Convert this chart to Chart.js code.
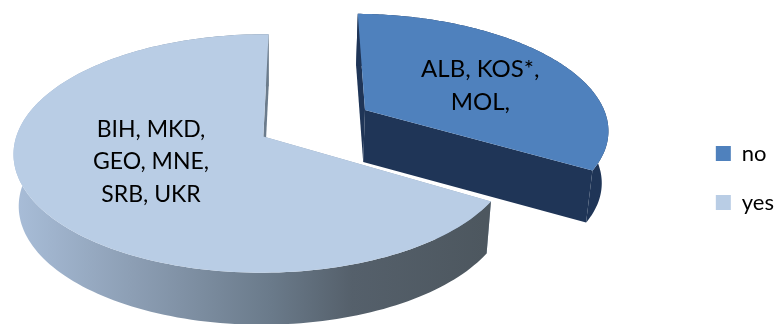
<!DOCTYPE html>
<html>
<head>
<meta charset="utf-8">
<style>
  html, body { margin: 0; padding: 0; background: #fff; }
  canvas { display: block; }
</style>
</head>
<body>
<canvas id="myChart" width="777" height="324"></canvas>
<script src="https://cdn.jsdelivr.net/npm/chart.js@4/dist/chart.umd.min.js"></script>
<script>
const categories = ['no', 'yes'];
const countryCounts = [3, 6];
const sliceTexts = [
  ['ALB, KOS*,', 'MOL,'],
  ['BIH, MKD,', 'GEO, MNE,', 'SRB, UKR']
];
const topColors = ['#4f81bd', '#b9cde5'];
const wallColors = ['#1f3557', '#8fa2b8'];

const font = 'Lato, Carlito, sans-serif';

// camera for the tilted pie: flattens and tips the circle chart.js works out
const view = { cx: 315, cy: 123, a: 243, b: 113, k: 0.14, vx: 275, depth: 52, shrink: 0.98 };
// slice text placement and size
const textStyle = [
  { r: 0.59, shift: 6, size: 24 },
  { r: 0.5, shift: -4, size: 23 }
];

function project(x, z, low) {
  const w = 1 + view.k * z;
  let sx = view.vx + (view.cx + x * view.a - view.vx) / w;
  let sy = view.cy - (z * view.b) / w;
  if (low) {
    sx = view.vx + (sx - view.vx) * view.shrink;
    sy += view.depth;
  }
  return [sx, sy];
}

// world position of a point on an arc element, exploded by its own offset
function slicePoint(arc, angle, r) {
  const mid = (arc.startAngle + arc.endAngle) / 2;
  const e = arc.options.offset / arc.outerRadius;
  return [e * Math.cos(mid) + r * Math.cos(angle), -(e * Math.sin(mid) + r * Math.sin(angle))];
}

function fillPath(ctx, pts, fill) {
  ctx.beginPath();
  pts.forEach((p, i) => (i ? ctx.lineTo(p[0], p[1]) : ctx.moveTo(p[0], p[1])));
  ctx.closePath();
  ctx.fillStyle = fill;
  ctx.fill();
}

const pie3d = {
  id: 'pie3d',
  afterLayout(chart) {
    // legend sits tighter to the edge and lower than the default box
    const lg = chart.legend;
    lg.left += 7; lg.right += 7;
    lg.top += 16; lg.bottom += 16;
  },
  beforeDatasetDraw(chart) {
    const ctx = chart.ctx;
    const arcs = chart.getDatasetMeta(0).data;
    arcs.forEach((arc, i) => {
      const n = 160;
      const rim = [];
      for (let s = 0; s <= n; s++) {
        rim.push(slicePoint(arc, arc.startAngle + (arc.endAngle - arc.startAngle) * s / n, 1));
      }
      const apex = slicePoint(arc, arc.startAngle, 0);
      const first = rim[0], last = rim[n];
      const up = p => project(p[0], p[1], false);
      const low = p => project(p[0], p[1], true);

      // shading along the wall
      let wall = wallColors[i];
      if (i === 1) {
        wall = ctx.createLinearGradient(12, 0, 484, 0);
        wall.addColorStop(0, '#a9bed9');
        wall.addColorStop(0.25, '#8d9fb5');
        wall.addColorStop(0.55, '#6a7a8a');
        wall.addColorStop(0.72, '#55606b');
        wall.addColorStop(1, '#4d575f');
      }

      fillPath(ctx, [up(apex), up(first), low(first), low(apex)], i === 1 ? '#8fa2b8' : wall);
      fillPath(ctx, [up(apex), up(last), low(last), low(apex)], wall);
      fillPath(ctx, rim.map(up).concat(rim.slice().reverse().map(low)), wall);
      fillPath(ctx, [up(apex)].concat(rim.map(up)), topColors[i]);
    });

    ctx.fillStyle = '#000';
    ctx.textAlign = 'center';
    ctx.textBaseline = 'middle';
    arcs.forEach((arc, i) => {
      const mid = (arc.startAngle + arc.endAngle) / 2;
      const st = textStyle[i];
      const p = project(...slicePoint(arc, mid, st.r), false);
      const lines = sliceTexts[i];
      ctx.font = st.size + 'px ' + font;
      lines.forEach((t, j) => ctx.fillText(t, p[0], p[1] + st.shift + (j - (lines.length - 1) / 2) * 32.5));
    });
    return false;
  }
};

new Chart(document.getElementById('myChart'), {
  type: 'pie',
  data: {
    labels: categories,
    datasets: [{
      data: countryCounts,
      backgroundColor: topColors,
      borderWidth: 0,
      offset: 35
    }]
  },
  options: {
    responsive: false,
    animation: false,
    rotation: 1,
    plugins: {
      tooltip: { enabled: false },
      legend: {
        position: 'right',
        labels: {
          boxWidth: 15,
          boxHeight: 15,
          padding: 27,
          color: '#000',
          font: { family: font, size: 22 }
        }
      }
    }
  },
  plugins: [pie3d]
});
</script>
</body>
</html>
